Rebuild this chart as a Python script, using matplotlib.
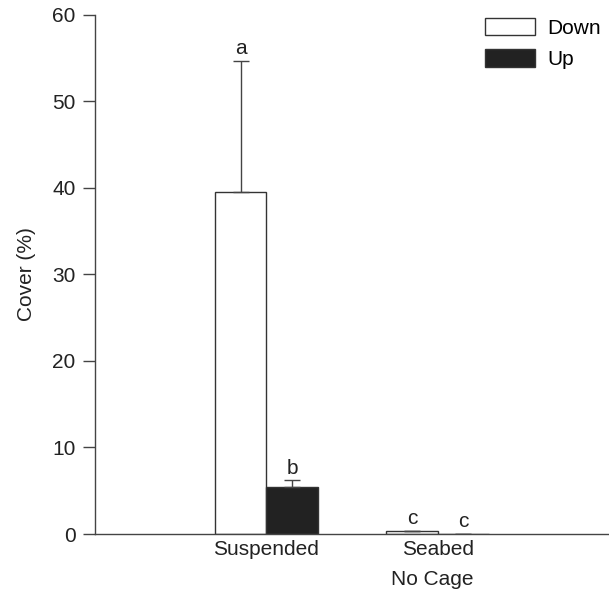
import numpy as np
import matplotlib.pyplot as plt

plt.rcParams['font.family'] = ['Liberation Sans', 'DejaVu Sans']

# data
groups = ['Suspended', 'Seabed']
down_mean = [39.5, 0.3]
down_err = [15.2, 0.1]
up_mean = [5.4, 0.03]
up_err = [0.8, 0.0]
down_letters = ['a', 'c']
up_letters = ['b', 'c']

x = np.array([1.0, 2.0])
w = 0.3
edge = '#333333'
fs = 15

fig = plt.figure(figsize=(6.09, 5.94), dpi=100)
ax = fig.add_axes([0.156, 0.101, 0.844, 0.874])

ax.bar(x - w/2, down_mean, w, color='white', edgecolor=edge, linewidth=1, label='Down')
ax.bar(x + w/2, up_mean, w, color='#222222', edgecolor=edge, linewidth=1, label='Up')

# upward-only error bars
ax.errorbar(x - w/2, down_mean, yerr=[np.zeros(2), down_err], fmt='none',
            ecolor='#444444', elinewidth=1, capsize=6, capthick=1)
ax.errorbar(x + w/2, up_mean, yerr=[np.zeros(2), up_err], fmt='none',
            ecolor='#444444', elinewidth=1, capsize=6, capthick=1)

for xi, m, e, t in zip(x - w/2, down_mean, down_err, down_letters):
    ax.annotate(t, (xi, m + e), xytext=(0, 2), textcoords='offset points',
                ha='center', va='bottom', fontsize=fs, color='#222222')
for xi, m, e, t in zip(x + w/2, up_mean, up_err, up_letters):
    ax.annotate(t, (xi, m + e), xytext=(0, 2), textcoords='offset points',
                ha='center', va='bottom', fontsize=fs, color='#222222')

ax.set_xlim(0, 3)
ax.set_ylim(0, 60)
ax.set_yticks(range(0, 61, 10))
ax.set_xticks(x)
ax.set_xticklabels(groups, fontsize=fs)
ax.tick_params(axis='x', length=0, pad=4, colors='#222222')
ax.tick_params(axis='y', direction='out', length=9, width=1, labelsize=fs,
               colors='#444444', labelcolor='#222222', pad=5)
ax.set_ylabel('Cover (%)', fontsize=fs, color='#222222', labelpad=12)
ax.annotate('No Cage', (x[1], 0), xycoords=('data', 'axes fraction'),
            xytext=(-4, -33), textcoords='offset points',
            ha='center', va='center', fontsize=fs, color='#222222')

for s in ['top', 'right']:
    ax.spines[s].set_visible(False)
for s in ['left', 'bottom']:
    ax.spines[s].set_color('#444444')
    ax.spines[s].set_linewidth(1)

ax.legend(loc='upper right', frameon=False, fontsize=fs, handlelength=2.4,
          handleheight=0.9, handletextpad=0.6, borderaxespad=0.0,
          bbox_to_anchor=(1.0, 1.01), labelspacing=0.55)

fig.savefig('out.png', dpi=100)
